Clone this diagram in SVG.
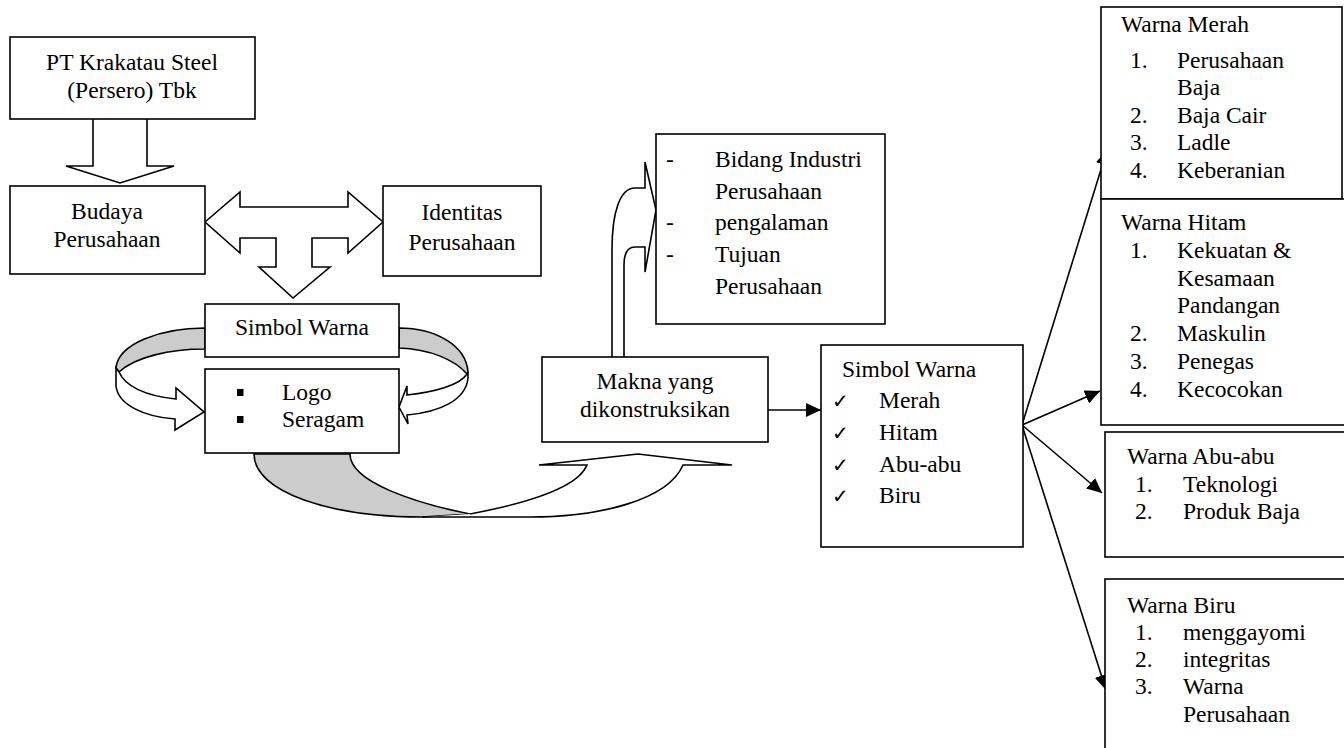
<svg xmlns="http://www.w3.org/2000/svg" width="1344" height="748" viewBox="0 0 1344 748">
<style>
  .box { fill: #fff; stroke: #000; stroke-width: 1.6; }
  .shape { fill: #fff; stroke: #000; stroke-width: 1.6; stroke-linejoin: miter; }
  .gray { fill: #cccccc; stroke: #000; stroke-width: 1.6; }
  .line { fill: none; stroke: #000; stroke-width: 1.6; }
  text { font-family: "Liberation Serif", "Times New Roman", serif; font-size: 23.5px; fill: #000; }
  .c { text-anchor: middle; }
  .chk { font-family: "DejaVu Sans", sans-serif; font-size: 20px; }
</style>
<defs>
  <marker id="ah" markerUnits="userSpaceOnUse" markerWidth="16" markerHeight="14" refX="15" refY="7" orient="auto">
    <path d="M0,0 L15,7 L0,14 Z" fill="#000"/>
  </marker>
</defs>

<g id="connectors">
  <!-- block arrow PT -> Budaya -->
  <path class="shape" d="M93,119 L93,166 L66,166 L120,183 L174,166 L147,166 L147,119"/>
  <!-- T-shaped double arrow -->
  <path class="shape" d="M205,222 L240,192 L240,207 L348,207 L348,192 L383,222 L348,253 L348,238 L312,238 L312,267 L330,267 L293,298 L259,267 L276,267 L276,238 L240,238 L240,253 Z"/>
  <!-- circular arrow left -->
  <path class="gray" d="M205,328 C160,328 118,344 116,368 L119,372 C135,357 170,349 205,349 Z"/>
  <path class="shape" d="M116,368 L116,386 C118,405 145,417 175,419 L175,430 L204,412 L176,388 L176,399 C145,396 125,386 119,372 Z"/>
  <!-- circular arrow right -->
  <path class="gray" d="M399,328 C435,328 466,345 468,372 L467,374 C455,360 430,349 399,348 Z"/>
  <path class="shape" d="M468,372 L468,378 C466,400 440,412 407,415 L408,424 L399,407 L407,386 L407,395 C435,392 460,385 467,374 Z"/>
  <!-- bottom curved arrow -->
  <path class="gray" d="M254,454 C254,492 330,517 422,517 L470,514 C415,503 350,482 350,454 Z"/>
  <path class="shape" d="M470,514 C528,503 578,488 587,465 L539,465 L638,454 L732,465 L683,465 C668,500 600,517 530,517 L422,517"/>
  <!-- bent arrow Makna -> Bidang -->
  <path class="shape" d="M612,357 L612,250 C612,212 620,188 635,188 L645,188 L645,162 L656,210 L645,272 L645,247 L635,247 C628,247 624,252 624,265 L624,357"/>
  <!-- Makna -> Simbol Warna -->
  <line class="line" x1="768" y1="410" x2="821" y2="410" marker-end="url(#ah)"/>
  <!-- fan out -->
  <line class="line" x1="1022" y1="425" x2="1107" y2="150" marker-end="url(#ah)"/>
  <line class="line" x1="1022" y1="425" x2="1100" y2="391" marker-end="url(#ah)"/>
  <line class="line" x1="1022" y1="425" x2="1102" y2="493" marker-end="url(#ah)"/>
  <line class="line" x1="1022" y1="425" x2="1106" y2="690" marker-end="url(#ah)"/>
</g>

<g id="pt">
  <rect class="box" x="10" y="37" width="245" height="82"/>
  <text class="c" x="132" y="70">PT Krakatau Steel</text>
  <text class="c" x="132" y="98">(Persero) Tbk</text>
</g>

<g id="budaya">
  <rect class="box" x="10" y="186" width="195" height="88"/>
  <text class="c" x="107" y="219">Budaya</text>
  <text class="c" x="107" y="247">Perusahaan</text>
</g>

<g id="identitas">
  <rect class="box" x="383" y="186" width="158" height="90"/>
  <text class="c" x="462" y="220">Identitas</text>
  <text class="c" x="462" y="250">Perusahaan</text>
</g>

<g id="simbol-warna-kiri">
  <rect class="box" x="205" y="304" width="194" height="53"/>
  <text class="c" x="302" y="335">Simbol Warna</text>
</g>

<g id="logo-seragam">
  <rect class="box" x="205" y="369" width="194" height="84"/>
  <rect x="237" y="389" width="6.5" height="7" fill="#000"/>
  <rect x="237" y="416" width="6.5" height="7" fill="#000"/>
  <text x="282" y="400">Logo</text>
  <text x="282" y="427">Seragam</text>
</g>

<g id="makna">
  <rect class="box" x="542" y="357" width="226" height="85"/>
  <text class="c" x="655" y="389">Makna yang</text>
  <text class="c" x="655" y="417">dikonstruksikan</text>
</g>

<g id="bidang">
  <rect class="box" x="656" y="134" width="229" height="190"/>
  <text x="666" y="167">-</text>
  <text x="715" y="167">Bidang Industri</text>
  <text x="715" y="199">Perusahaan</text>
  <text x="666" y="230">-</text>
  <text x="715" y="230">pengalaman</text>
  <text x="666" y="262">-</text>
  <text x="715" y="262">Tujuan</text>
  <text x="715" y="294">Perusahaan</text>
</g>

<g id="simbol-warna-kanan">
  <rect class="box" x="821" y="345" width="202" height="202"/>
  <text x="842" y="377">Simbol Warna</text>
  <text class="chk" x="832" y="408">✓</text>
  <text x="879" y="408">Merah</text>
  <text class="chk" x="832" y="440">✓</text>
  <text x="879" y="440">Hitam</text>
  <text class="chk" x="832" y="472">✓</text>
  <text x="879" y="472">Abu-abu</text>
  <text class="chk" x="832" y="503">✓</text>
  <text x="879" y="503">Biru</text>
</g>

<g id="warna-merah">
  <rect class="box" x="1101" y="7" width="241" height="192"/>
  <text x="1121" y="32">Warna Merah</text>
  <text x="1130" y="68">1.</text>
  <text x="1177" y="68">Perusahaan</text>
  <text x="1177" y="95">Baja</text>
  <text x="1130" y="123">2.</text>
  <text x="1177" y="123">Baja Cair</text>
  <text x="1130" y="150">3.</text>
  <text x="1177" y="150">Ladle</text>
  <text x="1130" y="178">4.</text>
  <text x="1177" y="178">Keberanian</text>
</g>

<g id="warna-hitam">
  <rect class="box" x="1101" y="199" width="250" height="226"/>
  <text x="1121" y="230">Warna Hitam</text>
  <text x="1130" y="258">1.</text>
  <text x="1177" y="258">Kekuatan &amp;</text>
  <text x="1177" y="286">Kesamaan</text>
  <text x="1177" y="313">Pandangan</text>
  <text x="1130" y="341">2.</text>
  <text x="1177" y="341">Maskulin</text>
  <text x="1130" y="369">3.</text>
  <text x="1177" y="369">Penegas</text>
  <text x="1130" y="397">4.</text>
  <text x="1177" y="397">Kecocokan</text>
</g>

<g id="warna-abu">
  <rect class="box" x="1105" y="432" width="246" height="125"/>
  <text x="1127" y="464">Warna Abu-abu</text>
  <text x="1135" y="492">1.</text>
  <text x="1183" y="492">Teknologi</text>
  <text x="1135" y="519">2.</text>
  <text x="1183" y="519">Produk Baja</text>
</g>

<g id="warna-biru">
  <rect class="box" x="1105" y="579" width="246" height="180"/>
  <text x="1127" y="613">Warna Biru</text>
  <text x="1135" y="640">1.</text>
  <text x="1183" y="640">menggayomi</text>
  <text x="1135" y="667">2.</text>
  <text x="1183" y="667">integritas</text>
  <text x="1135" y="694">3.</text>
  <text x="1183" y="694">Warna</text>
  <text x="1183" y="722">Perusahaan</text>
</g>
</svg>
